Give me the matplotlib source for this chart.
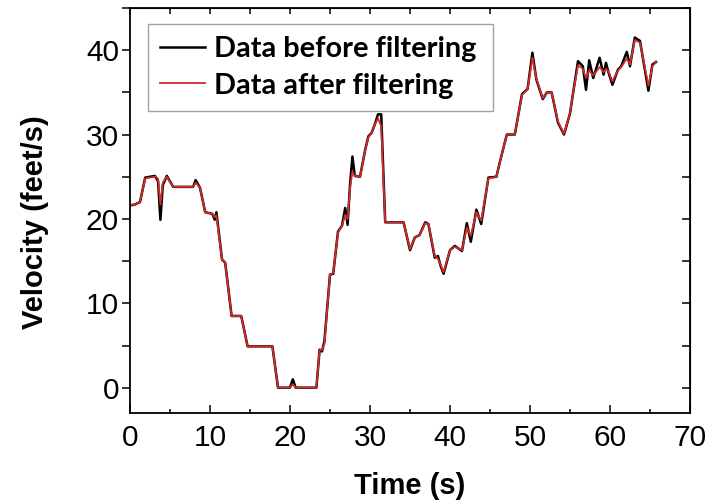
import matplotlib
matplotlib.use("Agg")
import matplotlib.pyplot as plt
from matplotlib.ticker import MultipleLocator

# ---- data ----
time = [0.0, 0.6, 1.25, 1.9, 3.1, 3.5, 3.8, 4.1, 4.6, 5.4,
        7.9, 8.2, 8.75, 9.4, 10.3, 10.6, 10.8, 11.5, 11.9, 12.7,
        13.9, 14.7, 17.8, 18.5, 20.0, 20.35, 20.7, 23.3, 23.7, 24.0,
        24.3, 25.0, 25.4, 26.0, 26.5, 26.9, 27.2, 27.5, 27.8, 28.1,
        28.75, 29.4, 29.8, 30.2, 30.6, 31.0, 31.4, 31.9, 34.2, 35.0,
        35.6, 36.2, 36.9, 37.3, 38.1, 38.5, 38.8, 39.2, 40.0, 40.6,
        41.5, 42.1, 42.6, 43.3, 43.9, 44.8, 45.8, 46.3, 47.1, 48.1,
        49.0, 49.7, 50.3, 50.8, 51.6, 52.1, 52.7, 53.5, 54.25, 55.0,
        55.4, 56.0, 56.6, 57.0, 57.4, 57.9, 58.7, 59.2, 59.5, 59.8,
        60.3, 61.0, 61.4, 62.1, 62.5, 63.1, 63.75, 64.8, 65.3, 65.75]

velocity_before = [21.6, 21.7, 22.0, 24.9, 25.1, 24.5, 19.9, 24.0, 25.1, 23.8,
                   23.8, 24.6, 23.7, 20.8, 20.6, 19.9, 20.8, 15.2, 14.8, 8.5,
                   8.5, 4.9, 4.9, 0.0, 0.0, 1.0, 0.0, 0.0, 4.5, 4.3,
                   5.5, 13.4, 13.5, 18.5, 19.2, 21.3, 19.3, 24.0, 27.4, 25.1,
                   25.0, 28.2, 29.8, 30.2, 31.2, 32.4, 32.4, 19.6, 19.6, 16.3,
                   17.8, 18.1, 19.6, 19.4, 15.4, 15.6, 14.5, 13.5, 16.3, 16.8,
                   16.2, 19.5, 17.3, 21.1, 19.4, 24.9, 25.0, 27.0, 30.0, 30.0,
                   34.8, 35.4, 39.7, 36.5, 34.2, 35.0, 35.0, 31.4, 30.0, 32.5,
                   35.0, 38.7, 38.1, 35.3, 38.8, 36.7, 39.1, 37.1, 38.5, 37.4,
                   35.9, 37.7, 38.1, 39.8, 38.1, 41.5, 41.1, 35.2, 38.3, 38.6]

velocity_after = [21.6, 21.7, 22.0, 24.8, 25.0, 24.8, 21.7, 24.3, 25.0, 23.8,
                  23.8, 24.3, 23.7, 20.8, 20.6, 20.2, 20.4, 15.2, 14.8, 8.5,
                  8.5, 4.9, 4.9, 0.0, 0.0, 0.4, 0.0, 0.0, 4.4, 4.5,
                  5.2, 13.4, 13.6, 18.4, 19.2, 20.5, 20.0, 23.6, 25.6, 25.1,
                  25.0, 28.2, 29.7, 30.2, 31.2, 31.9, 31.0, 19.6, 19.6, 16.4,
                  17.8, 18.1, 19.5, 19.4, 15.6, 15.3, 14.6, 13.7, 16.3, 16.7,
                  16.3, 19.0, 18.0, 20.8, 19.8, 24.8, 25.0, 27.0, 30.0, 30.0,
                  34.7, 35.4, 39.1, 36.6, 34.3, 35.0, 35.0, 31.5, 30.1, 32.5,
                  35.0, 38.2, 37.8, 36.7, 37.6, 37.0, 38.0, 37.4, 37.8, 37.5,
                  36.3, 37.6, 38.0, 39.0, 38.3, 41.2, 40.9, 35.8, 38.1, 38.6]

labels = ["Data before filtering", "Data after filtering"]

W, H = 709, 501
fig = plt.figure(figsize=(W / 100, H / 100), dpi=100)
ax = fig.add_axes([130 / W, (H - 413) / H, 560 / W, 405 / H])

ax.plot(time, velocity_before, color="black", lw=1.8, label=labels[0],
        solid_joinstyle="round")
ax.plot(time, velocity_after, color="#d42a2a", lw=1.3, label=labels[1],
        solid_joinstyle="round")

ax.set_xlim(0, 70)
ax.set_ylim(-3, 45)
ax.xaxis.set_major_locator(MultipleLocator(10))
ax.xaxis.set_minor_locator(MultipleLocator(5))
ax.yaxis.set_major_locator(MultipleLocator(10))
ax.yaxis.set_minor_locator(MultipleLocator(5))

ax.tick_params(axis="x", which="major", direction="in", length=6, width=1.1, pad=8)
ax.tick_params(axis="x", which="minor", direction="in", length=3, width=1.1)
ax.tick_params(axis="y", which="both", direction="out", length=6, width=1.1, pad=2)
for lab in ax.get_xticklabels() + ax.get_yticklabels():
    lab.set_fontfamily("Liberation Sans")
    lab.set_fontsize(21.5)

for s in ax.spines.values():
    s.set_linewidth(1.3)

sec_x = ax.secondary_xaxis("top")
sec_x.xaxis.set_major_locator(MultipleLocator(10))
sec_x.xaxis.set_minor_locator(MultipleLocator(5))
sec_x.tick_params(which="both", direction="in", length=4, width=1.1, labeltop=False)
sec_y = ax.secondary_yaxis("right")
sec_y.yaxis.set_major_locator(MultipleLocator(10))
sec_y.yaxis.set_minor_locator(MultipleLocator(5))
sec_y.tick_params(which="both", direction="in", length=6, width=1.1, labelright=False)

ax.set_xlabel("Time (s)", fontfamily="Liberation Sans", fontweight="bold", fontsize=21, labelpad=14)
ax.set_ylabel("Velocity (feet/s)", fontfamily="Liberation Sans", fontweight="bold", fontsize=21)
ax.yaxis.set_label_coords(-0.1446, 0.4716)

leg = ax.legend(loc="upper left",
                bbox_to_anchor=(148 / W, 1 - 102 / H, (493 - 148) / W, 78 / H),
                bbox_transform=fig.transFigure, mode="expand", borderaxespad=0,
                prop=dict(family="Lato", weight="bold", size=20.8),
                handlelength=1.55, handletextpad=0.3, borderpad=0.42,
                labelspacing=0.36, fancybox=False, framealpha=1)
leg.get_frame().set_edgecolor("#a0a0a0")
leg.get_frame().set_linewidth(1.0)

fig.savefig("out.png", dpi=100)
